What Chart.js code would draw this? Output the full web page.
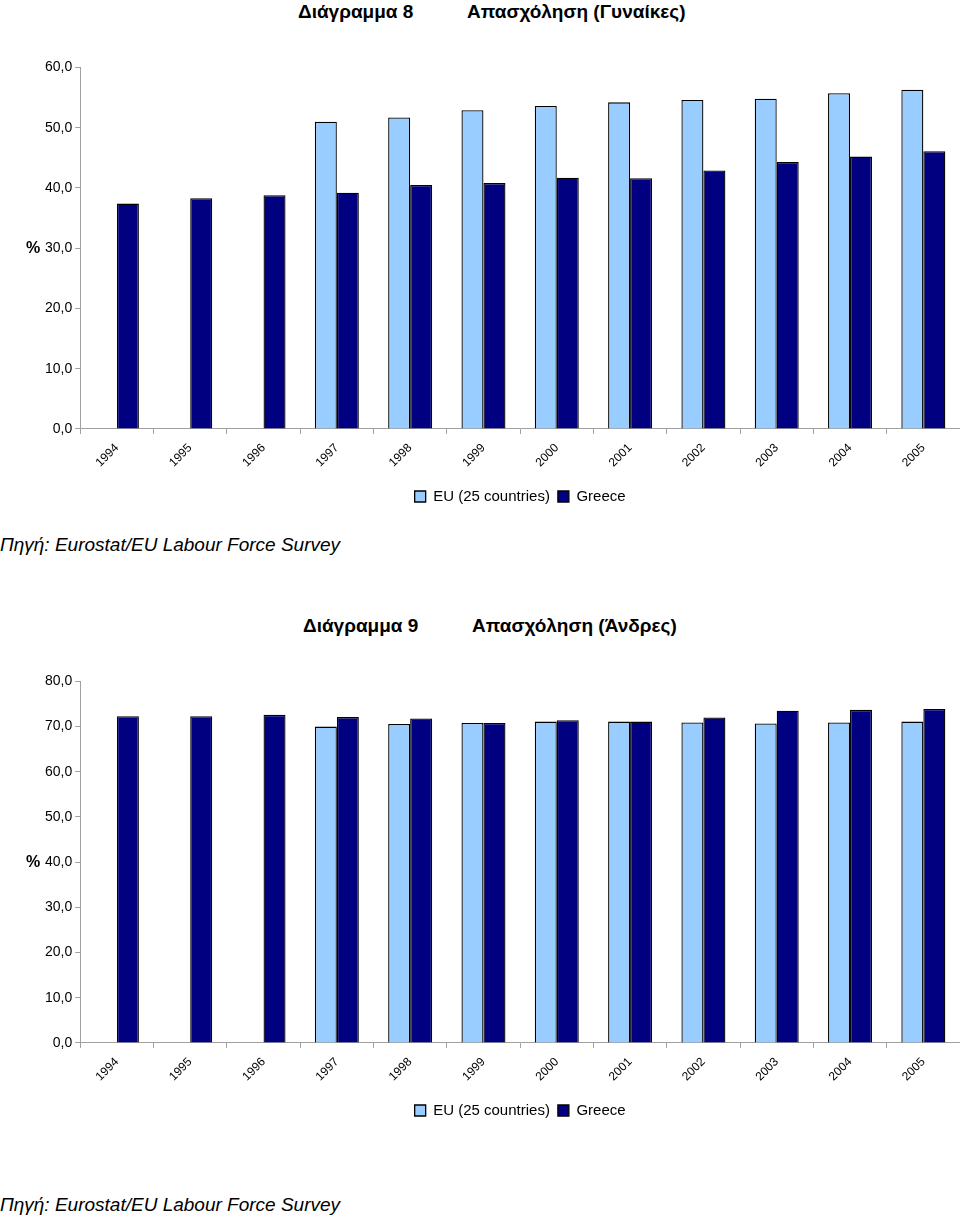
<!DOCTYPE html>
<html>
<head>
<meta charset="utf-8">
<script src="https://cdn.jsdelivr.net/npm/chart.js@4.4.1/dist/chart.umd.min.js"></script>
<style>
  body { margin: 0; background: #fff; font-family: "Liberation Sans", Arial, sans-serif; }
  #page { position: relative; width: 960px; height: 1219px; overflow: hidden; }
  .title { position: absolute; font-weight: bold; font-size: 19px; white-space: nowrap; }
  .source { position: absolute; left: 0; font-style: italic; font-size: 19px; white-space: nowrap; }
  .box { position: absolute; left: 0; width: 960px; }
</style>
</head>
<body>
<div id="page">
  <div class="title" style="left:298px; top:1px;">Διάγραμμα 8</div>
  <div class="title" style="left:467px; top:1px;">Απασχόληση (Γυναίκες)</div>
  <div class="box" style="top:56px; height:458px;"><canvas id="womenChart"></canvas></div>
  <div class="source" style="top:534px;">Πηγή: Eurostat/EU Labour Force Survey</div>

  <div class="title" style="left:303px; top:615px;">Διάγραμμα 9</div>
  <div class="title" style="left:472px; top:615px;">Απασχόληση (Άνδρες)</div>
  <div class="box" style="top:670px; height:458px;"><canvas id="menChart"></canvas></div>
  <div class="source" style="top:1194px;">Πηγή: Eurostat/EU Labour Force Survey</div>
</div>
<script>
const years = ["1994", "1995", "1996", "1997", "1998", "1999", "2000", "2001", "2002", "2003", "2004", "2005"];
const seriesNames = ["EU (25 countries)", "Greece"];

const womenEU = [null, null, null, 51.0, 51.7, 52.9, 53.6, 54.2, 54.6, 54.8, 55.7, 56.3];
const womenGR = [37.4, 38.3, 38.8, 39.2, 40.5, 40.8, 41.7, 41.6, 42.9, 44.3, 45.2, 46.1];

const menEU = [null, null, null, 70.0, 70.6, 70.8, 71.1, 71.1, 70.9, 70.7, 70.9, 71.1];
const menGR = [72.3, 72.3, 72.6, 72.1, 71.8, 70.8, 71.4, 71.1, 72.0, 73.5, 73.7, 73.9];

const FONT = "'Liberation Sans', Arial, sans-serif";
const AXIS = "#a0a0a0";

// draws the unrotated "%" next to the y axis
const percentLabel = {
  id: "percentLabel",
  afterDraw(chart) {
    const { ctx, chartArea } = chart;
    ctx.save();
    ctx.font = "bold 16px " + FONT;
    ctx.fillStyle = "#000";
    ctx.textAlign = "center";
    ctx.textBaseline = "middle";
    ctx.fillText("%", 33, (chartArea.top + chartArea.bottom) / 2);
    ctx.restore();
  },
};

function makeChart(id, eu, gr, yMax) {
  return new Chart(document.getElementById(id), {
    type: "bar",
    data: {
      labels: years,
      datasets: [
        { label: seriesNames[0], data: eu, backgroundColor: "#99ccff", borderColor: "#000", borderWidth: 1.3 },
        { label: seriesNames[1], data: gr, backgroundColor: "#000080", borderColor: "#000", borderWidth: 1.3 },
      ],
    },
    options: {
      responsive: true,
      maintainAspectRatio: false,
      animation: false,
      datasets: { bar: { categoryPercentage: 0.6, barPercentage: 1.0 } },
      layout: { padding: { left: 42, right: 0, top: 0, bottom: 0 } },
      plugins: {
        tooltip: { enabled: false },
        legend: {
          position: "bottom",
          fullSize: false,
          labels: { color: "#000", font: { family: FONT, size: 15 }, boxWidth: 11, boxHeight: 11, padding: 8 },
        },
      },
      scales: {
        x: {
          grid: { drawOnChartArea: false, drawTicks: true, tickLength: 5, color: AXIS },
          border: { color: AXIS },
          ticks: { color: "#000", font: { family: FONT, size: 12 }, minRotation: 45, maxRotation: 45, padding: 7 },
          afterFit: (scale) => { scale.height += 4; },
        },
        y: {
          min: 0,
          max: yMax,
          grid: { drawOnChartArea: false, drawTicks: true, tickLength: 5, color: AXIS },
          border: { color: AXIS },
          ticks: {
            stepSize: 10,
            color: "#000",
            font: { family: FONT, size: 14 },
            padding: 3,
            callback: (v) => v.toFixed(1).replace(".", ","),
          },
        },
      },
    },
    plugins: [percentLabel],
  });
}

makeChart("womenChart", womenEU, womenGR, 60);
makeChart("menChart", menEU, menGR, 80);
</script>
</body>
</html>
